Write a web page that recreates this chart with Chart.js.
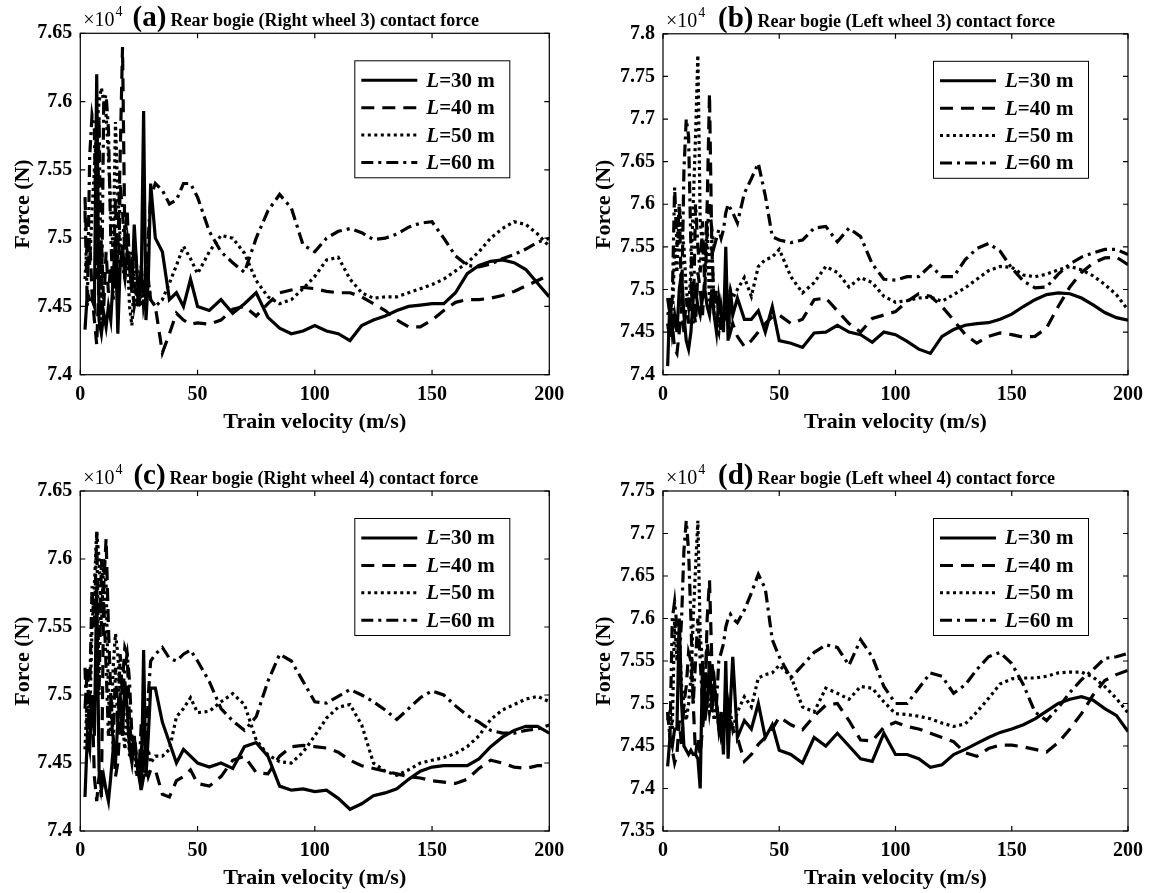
<!DOCTYPE html>
<html>
<head>
<meta charset="utf-8">
<script src="https://cdn.jsdelivr.net/npm/chart.js@4.4.1/dist/chart.umd.min.js"></script>
<style>
html, body { margin: 0; padding: 0; background: #fff; }
#wrap { position: relative; width: 1151px; height: 893px; }
canvas { position: absolute; }
</style>
</head>
<body>
<div id="wrap">
<canvas id="ca" width="575" height="446" style="left:0;top:0"></canvas>
<canvas id="cb" width="576" height="446" style="left:575px;top:0"></canvas>
<canvas id="cc" width="575" height="447" style="left:0;top:446px"></canvas>
<canvas id="cd" width="576" height="447" style="left:575px;top:446px"></canvas>
</div>
<script>
// train velocity (m/s), shared by every series
var velocity = [2, 3, 4, 5, 6, 7, 8, 9, 10, 11, 12, 13, 14, 15, 16, 17, 18, 19, 20, 21, 22, 23, 24, 25, 26, 27, 28, 29, 30,
  32, 35, 38, 41, 44, 47, 50,
  55, 60, 65, 70, 75, 80, 85, 90, 95, 100, 105, 110, 115, 120, 125, 130, 135, 140, 145, 150, 155, 160, 165, 170, 175, 180, 185, 190, 195, 200];

var spans = ['30', '40', '50', '60'];
var xTicks = [0, 50, 100, 150, 200];
var yTicksA = [7.4, 7.45, 7.5, 7.55, 7.6, 7.65];
var yTicksB = [7.4, 7.45, 7.5, 7.55, 7.6, 7.65, 7.7, 7.75, 7.8];
var yTicksC = [7.4, 7.45, 7.5, 7.55, 7.6, 7.65];
var yTicksD = [7.35, 7.4, 7.45, 7.5, 7.55, 7.6, 7.65, 7.7, 7.75];

// (a) right wheel 3, force x 10^4 N
var a30 = [7.433, 7.46, 7.455, 7.455, 7.45, 7.62, 7.44, 7.43, 7.445, 7.435, 7.45, 7.44, 7.47, 7.50, 7.43, 7.48, 7.495, 7.47, 7.49, 7.48, 7.46, 7.51, 7.48, 7.45, 7.47, 7.593, 7.44, 7.47, 7.54,
  7.50, 7.49, 7.455, 7.46, 7.45, 7.47, 7.45,
  7.447, 7.455, 7.445, 7.452, 7.46, 7.442, 7.434, 7.43, 7.432, 7.436, 7.432, 7.43, 7.425, 7.436, 7.44, 7.443, 7.447, 7.45, 7.451, 7.452, 7.452, 7.46, 7.474, 7.48, 7.483, 7.484, 7.482, 7.477, 7.467, 7.457];
var a40 = [7.53, 7.48, 7.50, 7.46, 7.44, 7.422, 7.47, 7.50, 7.45, 7.49, 7.46, 7.48, 7.455, 7.47, 7.49, 7.56, 7.64, 7.50, 7.52, 7.48, 7.47, 7.45, 7.46, 7.455, 7.48, 7.46, 7.45, 7.47, 7.455,
  7.45, 7.416, 7.43, 7.445, 7.44, 7.437, 7.438,
  7.437, 7.44, 7.448, 7.45, 7.443, 7.452, 7.46, 7.462, 7.464, 7.463, 7.461, 7.46, 7.46, 7.457, 7.452, 7.447, 7.44, 7.435, 7.435, 7.44, 7.447, 7.453, 7.455, 7.455, 7.456, 7.458, 7.461, 7.465, 7.469, 7.473];
var a50 = [7.47, 7.50, 7.48, 7.52, 7.55, 7.58, 7.60, 7.61, 7.60, 7.59, 7.56, 7.52, 7.49, 7.585, 7.53, 7.50, 7.48, 7.47, 7.49, 7.45, 7.436, 7.47, 7.48, 7.46, 7.45, 7.47, 7.455, 7.47, 7.455,
  7.45, 7.455, 7.467, 7.48, 7.494, 7.485, 7.474,
  7.49, 7.502, 7.5, 7.489, 7.469, 7.457, 7.452, 7.455, 7.463, 7.472, 7.484, 7.486, 7.47, 7.46, 7.456, 7.457, 7.457, 7.46, 7.463, 7.466, 7.47, 7.476, 7.482, 7.49, 7.5, 7.507, 7.512, 7.51, 7.503, 7.494];
var a60 = [7.52, 7.45, 7.56, 7.59, 7.58, 7.47, 7.59, 7.44, 7.60, 7.605, 7.58, 7.50, 7.46, 7.53, 7.45, 7.54, 7.52, 7.49, 7.50, 7.48, 7.49, 7.47, 7.45, 7.46, 7.48, 7.45, 7.46, 7.50, 7.53,
  7.54, 7.535, 7.525, 7.528, 7.54, 7.54, 7.53,
  7.505, 7.49, 7.482, 7.475, 7.5, 7.52, 7.532, 7.522, 7.495, 7.49, 7.5, 7.505, 7.507, 7.504, 7.499, 7.5, 7.503, 7.508, 7.511, 7.512, 7.5, 7.487, 7.48, 7.479, 7.481, 7.485, 7.488, 7.492, 7.497, 7.5];

// (b) left wheel 3
var b30 = [7.41, 7.49, 7.45, 7.47, 7.45, 7.50, 7.52, 7.47, 7.44, 7.43, 7.45, 7.49, 7.50, 7.48, 7.47, 7.49, 7.50, 7.48, 7.47, 7.50, 7.47, 7.45, 7.49, 7.47, 7.45, 7.55, 7.44, 7.50, 7.47,
  7.49, 7.465, 7.465, 7.475, 7.45, 7.48, 7.44,
  7.437, 7.432, 7.449, 7.45, 7.458, 7.45, 7.447, 7.438, 7.45, 7.447, 7.439, 7.43, 7.425, 7.445, 7.453, 7.458, 7.46, 7.461, 7.465, 7.471, 7.48, 7.488, 7.494, 7.496, 7.495, 7.49, 7.482, 7.473, 7.467, 7.464];
var b40 = [7.46, 7.44, 7.46, 7.43, 7.425, 7.45, 7.48, 7.45, 7.49, 7.46, 7.50, 7.48, 7.46, 7.52, 7.50, 7.47, 7.52, 7.60, 7.73, 7.55, 7.48, 7.50, 7.47, 7.45, 7.48, 7.46, 7.47, 7.45, 7.46,
  7.445, 7.433, 7.44, 7.45, 7.46, 7.468, 7.47,
  7.46, 7.465, 7.488, 7.49, 7.475, 7.46, 7.45, 7.466, 7.47, 7.474, 7.486, 7.495, 7.492, 7.48, 7.464, 7.447, 7.437, 7.445, 7.449, 7.447, 7.444, 7.445, 7.455, 7.48, 7.503, 7.52, 7.531, 7.537, 7.538, 7.529];
var b50 = [7.47, 7.48, 7.46, 7.55, 7.52, 7.60, 7.57, 7.55, 7.50, 7.48, 7.52, 7.60, 7.68, 7.775, 7.58, 7.55, 7.52, 7.58, 7.48, 7.56, 7.47, 7.46, 7.45, 7.48, 7.46, 7.50, 7.48, 7.50, 7.49,
  7.5, 7.514, 7.492, 7.527, 7.535, 7.538, 7.547,
  7.515, 7.496, 7.508, 7.527, 7.52, 7.503, 7.514, 7.508, 7.492, 7.485, 7.487, 7.49, 7.491, 7.486, 7.494, 7.502, 7.512, 7.522, 7.527, 7.526, 7.517, 7.515, 7.518, 7.523, 7.527, 7.523, 7.516, 7.506, 7.494, 7.476];
var b60 = [7.49, 7.47, 7.49, 7.62, 7.55, 7.60, 7.48, 7.64, 7.70, 7.68, 7.55, 7.46, 7.60, 7.55, 7.52, 7.58, 7.50, 7.57, 7.60, 7.57, 7.55, 7.56, 7.57, 7.56, 7.57, 7.59, 7.60, 7.595, 7.59,
  7.578, 7.613, 7.63, 7.648, 7.61, 7.562, 7.558,
  7.555, 7.558, 7.572, 7.574, 7.556, 7.572, 7.562, 7.53, 7.512, 7.511, 7.515, 7.515, 7.528, 7.515, 7.515, 7.535, 7.548, 7.554, 7.545, 7.525, 7.51, 7.502, 7.503, 7.518, 7.53, 7.538, 7.543, 7.547, 7.547, 7.541];

// (c) right wheel 4
var c30 = [7.425, 7.47, 7.46, 7.50, 7.47, 7.58, 7.445, 7.43, 7.44, 7.43, 7.422, 7.44, 7.46, 7.45, 7.48, 7.50, 7.47, 7.51, 7.49, 7.46, 7.45, 7.47, 7.45, 7.45, 7.43, 7.533, 7.44, 7.47, 7.505,
  7.505, 7.48, 7.465, 7.45, 7.46, 7.455, 7.45,
  7.447, 7.45, 7.446, 7.462, 7.465, 7.455, 7.433, 7.43, 7.431, 7.429, 7.43, 7.424, 7.416, 7.42, 7.426, 7.428, 7.431, 7.438, 7.444, 7.447, 7.448, 7.448, 7.448, 7.453, 7.462, 7.469, 7.474, 7.477, 7.477, 7.472];
var c40 = [7.49, 7.52, 7.47, 7.50, 7.44, 7.422, 7.44, 7.425, 7.58, 7.615, 7.55, 7.50, 7.47, 7.44, 7.45, 7.48, 7.51, 7.535, 7.53, 7.48, 7.46, 7.47, 7.455, 7.44, 7.445, 7.46, 7.45, 7.44, 7.445,
  7.445, 7.427, 7.425, 7.437, 7.44, 7.445, 7.435,
  7.433, 7.44, 7.452, 7.455, 7.443, 7.442, 7.455, 7.462, 7.463, 7.462, 7.461, 7.458, 7.452, 7.448, 7.446, 7.444, 7.442, 7.44, 7.439, 7.437, 7.436, 7.435, 7.438, 7.446, 7.452, 7.45, 7.447, 7.446, 7.448, 7.448];
var c50 = [7.46, 7.50, 7.48, 7.55, 7.58, 7.62, 7.60, 7.55, 7.60, 7.58, 7.50, 7.47, 7.52, 7.545, 7.53, 7.50, 7.48, 7.46, 7.49, 7.455, 7.47, 7.46, 7.44, 7.45, 7.46, 7.44, 7.45, 7.46, 7.45,
  7.455, 7.455, 7.46, 7.484, 7.49, 7.498, 7.487,
  7.488, 7.495, 7.501, 7.493, 7.467, 7.456, 7.451, 7.45, 7.458, 7.47, 7.483, 7.491, 7.493, 7.478, 7.45, 7.444, 7.441, 7.445, 7.45, 7.452, 7.454, 7.457, 7.462, 7.47, 7.482, 7.489, 7.493, 7.497, 7.499, 7.495];
var c60 = [7.52, 7.47, 7.50, 7.58, 7.55, 7.62, 7.50, 7.60, 7.57, 7.52, 7.47, 7.50, 7.46, 7.52, 7.48, 7.53, 7.50, 7.52, 7.53, 7.51, 7.47, 7.46, 7.45, 7.44, 7.48, 7.45, 7.46, 7.50, 7.525,
  7.53, 7.535, 7.527, 7.525, 7.53, 7.533, 7.525,
  7.51, 7.49, 7.481, 7.474, 7.484, 7.51, 7.53, 7.525, 7.51, 7.495, 7.494, 7.499, 7.504, 7.5, 7.495, 7.489, 7.482, 7.49, 7.498, 7.503, 7.5, 7.492, 7.485, 7.48, 7.474, 7.472, 7.472, 7.474, 7.475, 7.478];

// (d) left wheel 4
var d30 = [7.426, 7.46, 7.45, 7.47, 7.47, 7.60, 7.50, 7.45, 7.445, 7.44, 7.445, 7.44, 7.44, 7.435, 7.40, 7.55, 7.48, 7.50, 7.55, 7.49, 7.52, 7.50, 7.47, 7.49, 7.44, 7.55, 7.435, 7.50, 7.555,
  7.46, 7.48, 7.47, 7.5, 7.46, 7.475, 7.445,
  7.44, 7.43, 7.46, 7.45, 7.465, 7.45, 7.435, 7.432, 7.465, 7.44, 7.44, 7.435, 7.425, 7.428, 7.44, 7.446, 7.453, 7.46, 7.466, 7.47, 7.475, 7.482, 7.491, 7.5, 7.505, 7.508, 7.504, 7.494, 7.486, 7.467];
var d40 = [7.49, 7.46, 7.445, 7.43, 7.44, 7.48, 7.45, 7.50, 7.52, 7.56, 7.55, 7.50, 7.44, 7.46, 7.44, 7.47, 7.50, 7.60, 7.645, 7.55, 7.52, 7.50, 7.48, 7.46, 7.47, 7.48, 7.50, 7.48, 7.47,
  7.46, 7.432, 7.44, 7.452, 7.46, 7.47, 7.484,
  7.475, 7.469, 7.485, 7.498, 7.5, 7.48, 7.457, 7.456, 7.472, 7.478, 7.473, 7.47, 7.465, 7.46, 7.455, 7.442, 7.438, 7.447, 7.451, 7.451, 7.449, 7.446, 7.443, 7.454, 7.47, 7.488, 7.51, 7.527, 7.534, 7.539];
var d50 = [7.48, 7.49, 7.47, 7.60, 7.55, 7.58, 7.52, 7.50, 7.48, 7.50, 7.53, 7.60, 7.66, 7.715, 7.58, 7.55, 7.50, 7.52, 7.49, 7.51, 7.48, 7.50, 7.47, 7.46, 7.47, 7.48, 7.50, 7.49, 7.47,
  7.49, 7.508, 7.496, 7.53, 7.534, 7.536, 7.545,
  7.532, 7.496, 7.49, 7.518, 7.512, 7.505, 7.52, 7.518, 7.502, 7.488, 7.487, 7.485, 7.482, 7.477, 7.473, 7.476, 7.49, 7.506, 7.523, 7.529, 7.53, 7.53, 7.532, 7.536, 7.537, 7.537, 7.531, 7.52, 7.506, 7.489];
var d60 = [7.49, 7.46, 7.60, 7.62, 7.59, 7.55, 7.60, 7.68, 7.715, 7.68, 7.60, 7.50, 7.55, 7.60, 7.55, 7.50, 7.52, 7.57, 7.55, 7.52, 7.53, 7.50, 7.55, 7.56, 7.57, 7.59, 7.60, 7.605, 7.60,
  7.595, 7.61, 7.63, 7.652, 7.635, 7.575, 7.555,
  7.53, 7.545, 7.56, 7.569, 7.566, 7.545, 7.575, 7.555, 7.52, 7.5, 7.5, 7.518, 7.536, 7.532, 7.512, 7.522, 7.54, 7.555, 7.56, 7.547, 7.522, 7.49, 7.48, 7.495, 7.513, 7.528, 7.54, 7.553, 7.555, 7.559];

var serif = '"Liberation Serif", "Times New Roman", serif';
// solid, dashed, dotted, dash-dot
var dashes = [[], [13, 8], [3, 3.5], [12, 5, 3, 5]];

function toPoints(vals) {
  return vals.map(function (y, i) { return { x: velocity[i], y: y }; });
}

// box, inward ticks, exponent + title, legend
var framePlugin = {
  id: 'frame',
  afterDraw: function (chart) {
    var ctx = chart.ctx, a = chart.chartArea, o = chart.options.plugins.frame;
    var xs = chart.scales.x, ys = chart.scales.y;
    ctx.save();
    ctx.strokeStyle = '#000';
    ctx.lineWidth = 1.2;
    ctx.setLineDash([]);
    ctx.strokeRect(a.left, a.top, a.right - a.left, a.bottom - a.top);
    ctx.beginPath();
    xs.ticks.forEach(function (t) {
      var px = xs.getPixelForValue(t.value);
      ctx.moveTo(px, a.bottom); ctx.lineTo(px, a.bottom - 5);
      ctx.moveTo(px, a.top); ctx.lineTo(px, a.top + 5);
    });
    ys.ticks.forEach(function (t) {
      var py = ys.getPixelForValue(t.value);
      ctx.moveTo(a.left, py); ctx.lineTo(a.left + 5, py);
      ctx.moveTo(a.right, py); ctx.lineTo(a.right - 5, py);
    });
    ctx.stroke();

    // exponent and title
    var base = a.top - 7;
    ctx.fillStyle = '#000';
    ctx.textAlign = 'left';
    ctx.textBaseline = 'alphabetic';
    ctx.font = '20px ' + serif;
    ctx.fillText('\u00d710', a.left + 3, base);
    var wx = ctx.measureText('\u00d710').width;
    ctx.font = '14px ' + serif;
    ctx.fillText('4', a.left + 4 + wx, base - 10);
    ctx.font = 'bold 29px ' + serif;
    var wTag = ctx.measureText(o.tag).width;
    ctx.font = 'bold 18px ' + serif;
    var wText = ctx.measureText(o.text).width;
    var start = (a.left + a.right) / 2 - 9 - (wTag + 4 + wText) / 2;
    ctx.font = 'bold 29px ' + serif;
    ctx.fillText(o.tag, start, base);
    ctx.font = 'bold 18px ' + serif;
    ctx.fillText(o.text, start + wTag + 4, base);

    // legend
    var bx = a.right - 195, by = a.top + 27, bw = 155, bh = 117;
    ctx.fillStyle = '#fff';
    ctx.fillRect(bx, by, bw, bh);
    ctx.lineWidth = 1;
    ctx.strokeRect(bx + 0.5, by + 0.5, bw, bh);
    chart.data.datasets.forEach(function (ds, i) {
      var ry = by + 20 + i * 27.4;
      ctx.beginPath();
      ctx.lineWidth = 3;
      ctx.setLineDash(ds.borderDash);
      ctx.moveTo(bx + 7, ry);
      ctx.lineTo(bx + 63, ry);
      ctx.stroke();
      ctx.setLineDash([]);
      ctx.fillStyle = '#000';
      ctx.textBaseline = 'middle';
      ctx.font = 'italic bold 21px ' + serif;
      ctx.fillText('L', bx + 72, ry + 1);
      var wl = ctx.measureText('L').width;
      ctx.font = 'bold 21px ' + serif;
      ctx.fillText('=' + spans[i] + ' m', bx + 72 + wl, ry + 1);
    });
    ctx.restore();
  }
};

function makeChart(id, series, yTicks, tag, text, g) {
  return new Chart(document.getElementById(id), {
    type: 'line',
    data: {
      datasets: series.map(function (vals, i) {
        return {
          label: 'L=' + spans[i] + ' m',
          data: toPoints(vals),
          borderColor: '#000',
          borderWidth: 3.2,
          borderDash: dashes[i],
          pointRadius: 0,
          fill: false,
          tension: 0
        };
      })
    },
    options: {
      responsive: false,
      animation: false,
      devicePixelRatio: 1,
      layout: { padding: { left: 0, top: g.top, right: g.right, bottom: 0 } },
      scales: {
        x: {
          type: 'linear',
          min: xTicks[0],
          max: xTicks[xTicks.length - 1],
          afterBuildTicks: function (s) { s.ticks = xTicks.map(function (v) { return { value: v }; }); },
          afterFit: function (s) { s.height = g.xh; },
          grid: { display: false, drawTicks: false },
          border: { display: false },
          ticks: { padding: 8, maxRotation: 0, autoSkip: false, color: '#000',
            font: { family: serif, size: 20, weight: 'bold' } },
          title: { display: true, text: 'Train velocity (m/s)', color: '#000',
            font: { family: serif, size: 22, weight: 'bold' }, padding: { top: 0, bottom: g.xtp } }
        },
        y: {
          min: yTicks[0],
          max: yTicks[yTicks.length - 1],
          afterBuildTicks: function (s) { s.ticks = yTicks.map(function (v) { return { value: v }; }); },
          afterFit: function (s) { s.width = g.yw; },
          grid: { display: false, drawTicks: false },
          border: { display: false },
          ticks: { padding: 8, autoSkip: false, color: '#000',
            font: { family: serif, size: 20, weight: 'bold' },
            callback: function (v) { return String(Math.round(v * 100) / 100); } },
          title: { display: true, text: 'Force (N)', color: '#000',
            font: { family: serif, size: 22, weight: 'bold' }, padding: { top: g.ytp, bottom: 0 } }
        }
      },
      plugins: {
        legend: { display: false },
        tooltip: { enabled: false },
        frame: { tag: tag, text: text }
      }
    },
    plugins: [framePlugin]
  });
}

makeChart('ca', [a30, a40, a50, a60], yTicksA, '(a)', 'Rear bogie (Right wheel 3) contact force',
  { top: 33.3, right: 25.7, yw: 80.3, xh: 71.3, ytp: 10, xtp: 10 });
makeChart('cb', [b30, b40, b50, b60], yTicksB, '(b)', 'Rear bogie (Left wheel 3) contact force',
  { top: 33.8, right: 19.3, yw: 88, xh: 71.3, ytp: 16, xtp: 10 });
makeChart('cc', [c30, c40, c50, c60], yTicksC, '(c)', 'Rear bogie (Right wheel 4) contact force',
  { top: 45, right: 25.7, yw: 80.3, xh: 62, ytp: 10, xtp: 1 });
makeChart('cd', [d30, d40, d50, d60], yTicksD, '(d)', 'Rear bogie (Left wheel 4) contact force',
  { top: 45, right: 19.3, yw: 88, xh: 62, ytp: 16, xtp: 1 });
</script>
</body>
</html>
